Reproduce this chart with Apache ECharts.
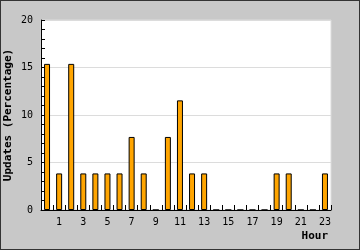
<!DOCTYPE html>
<html><head><meta charset="utf-8">
<script src="https://cdn.jsdelivr.net/npm/echarts@6/dist/echarts.min.js"></script>
<style>html,body{margin:0;padding:0;background:#c8c8c8;}#c{width:358px;height:248px;border:1px solid #333;}</style>
</head><body><div id="c"></div>
<script>
var hours = ['0','1','2','3','4','5','6','7','8','9','10','11','12','13','14','15','16','17','18','19','20','21','22','23'];
var updates = [15.38,3.85,15.38,3.85,3.85,3.85,3.85,7.69,3.85,0,7.69,11.54,3.85,3.85,0,0,0,0,0,3.85,3.85,0,0,3.85];
var yTicks = [0,5,10,15,20];

var chart = echarts.init(document.getElementById('c'), null, {renderer:'canvas'});
var font = 'DejaVu Sans Mono';
chart.setOption({
  backgroundColor:'#c8c8c8',
  animation:false,
  grid:{left:40,top:19,width:290,height:190,show:true,backgroundColor:'#fff',borderColor:'#dcdcdc',borderWidth:1,containLabel:false,outerBoundsMode:'none'},
  xAxis:{type:'category',data:hours,boundaryGap:true,
    name:'Hour',nameLocation:'end',nameGap:-3,nameMoveOverlap:false,
    nameTextStyle:{fontFamily:font,fontWeight:'bold',fontSize:11,color:'#000',align:'right',verticalAlign:'top',padding:[21,0,0,0]},
    axisLine:{lineStyle:{color:'#000',width:1}},
    axisTick:{show:true,inside:true,length:5,interval:0,lineStyle:{color:'#000'}},
    axisLabel:{interval:function(i){return i%2===1;},fontFamily:font,fontSize:10,color:'#000',margin:7},
    splitLine:{show:false}},
  yAxis:{type:'value',min:yTicks[0],max:yTicks[yTicks.length-1],interval:5,
    name:'Updates (Percentage)',nameLocation:'middle',nameGap:27,nameMoveOverlap:false,
    nameTextStyle:{fontFamily:font,fontWeight:'bold',fontSize:11,color:'#000'},
    axisLine:{show:true,lineStyle:{color:'#000',width:1}},
    axisTick:{show:true,inside:true,length:4,lineStyle:{color:'#000'}},
    minorTick:{show:true,splitNumber:5,length:4,lineStyle:{color:'#000'}},
    axisLabel:{fontFamily:font,fontSize:10,color:'#000',margin:8},
    splitLine:{show:true,lineStyle:{color:'#dcdcdc',width:1}}},
  series:[{type:'bar',data:updates,barWidth:6,
    itemStyle:{color:'#ffa500',borderColor:'#000',borderWidth:1}}]
});
</script></body></html>
